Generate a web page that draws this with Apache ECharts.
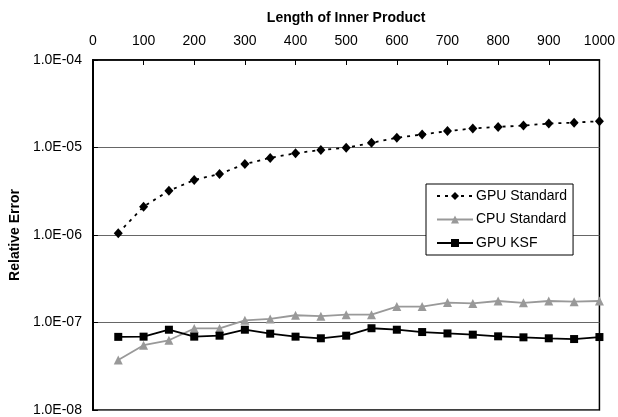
<!DOCTYPE html>
<html>
<head>
<meta charset="utf-8">
<script src="https://cdn.jsdelivr.net/npm/echarts@6/dist/echarts.min.js"></script>
<style>
html,body{margin:0;padding:0;background:#fff;}
#chart{width:618px;height:417px;}
</style>
</head>
<body>
<div id="chart"></div>
<script>
const xValues = [50,100,150,200,250,300,350,400,450,500,550,600,650,700,750,800,850,900,950,1000];
const gpuStandard = [1.05e-6,2.11e-6,3.2e-6,4.26e-6,4.98e-6,6.46e-6,7.6e-6,8.6e-6,9.37e-6,9.95e-6,1.13e-5,1.29e-5,1.41e-5,1.54e-5,1.65e-5,1.72e-5,1.78e-5,1.88e-5,1.92e-5,2.0e-5];
const cpuStandard = [3.72e-8,5.5e-8,6.26e-8,8.55e-8,8.55e-8,1.06e-7,1.1e-7,1.21e-7,1.18e-7,1.23e-7,1.23e-7,1.52e-7,1.52e-7,1.69e-7,1.65e-7,1.76e-7,1.68e-7,1.76e-7,1.73e-7,1.76e-7];
const gpuKSF = [6.85e-8,6.89e-8,8.27e-8,6.89e-8,7.07e-8,8.27e-8,7.45e-8,6.89e-8,6.6e-8,7.07e-8,8.6e-8,8.27e-8,7.78e-8,7.5e-8,7.26e-8,6.95e-8,6.77e-8,6.6e-8,6.47e-8,6.82e-8];
const xTickLabels = ['0','100','200','300','400','500','600','700','800','900','1000'];
const yTickLabels = ['1.0E-08','1.0E-07','1.0E-06','1.0E-05','1.0E-04'];
const seriesNames = ['GPU Standard','CPU Standard','GPU KSF'];

const font = 'Liberation Sans, Arial, sans-serif';
const pairs = arr => xValues.map((x,i)=>[x,arr[i]]);

const chart = echarts.init(document.getElementById('chart'), null, {renderer:'canvas'});
chart.setOption({
  animation:false,
  backgroundColor:'#fff',
  textStyle:{fontFamily:font},
  grid:{left:91,right:17,top:60,bottom:3.5,show:true,borderColor:'#000',borderWidth:1.5,backgroundColor:'transparent'},
  legend:{
    orient:'vertical',left:426,top:184,
    padding:[5,6,5,10],
    itemWidth:36,itemHeight:10,itemGap:9.5,
    borderColor:'#000',borderWidth:1,backgroundColor:'#fff',
    textStyle:{fontFamily:font,fontSize:14,color:'#000',padding:[0,0,0,-2]},
    data:seriesNames
  },
  xAxis:{
    type:'value',position:'top',min:0,max:1000,interval:100,
    name:'Length of Inner Product',nameLocation:'middle',nameGap:35,
    nameTextStyle:{fontFamily:font,fontSize:14,fontWeight:'bold',color:'#000'},
    axisLine:{show:true,lineStyle:{color:'#000',width:1.5}},
    axisTick:{show:true,inside:true,length:5,lineStyle:{color:'#000'}},
    axisLabel:{margin:12,fontFamily:font,fontSize:14,color:'#000',
      formatter:(v)=>xTickLabels[Math.round(v/100)]},
    splitLine:{show:false}
  },
  yAxis:{
    type:'log',logBase:10,min:1e-8,max:1e-4,
    name:'Relative Error',nameLocation:'middle',nameGap:65,nameRotate:90,
    nameTextStyle:{fontFamily:font,fontSize:14,fontWeight:'bold',color:'#000'},
    axisLine:{show:true,lineStyle:{color:'#000',width:2}},
    axisTick:{show:true,inside:true,length:5,lineStyle:{color:'#000'}},
    axisLabel:{margin:11,fontFamily:font,fontSize:14,color:'#000',
      formatter:(v)=>yTickLabels[Math.round(Math.log10(v))+8]},
    splitLine:{show:true,lineStyle:{color:'#666',width:1.2}}
  },
  series:[
    {name:seriesNames[0],type:'line',data:pairs(gpuStandard),symbol:'diamond',symbolSize:[9,10],
     itemStyle:{color:'#000'},lineStyle:{color:'#000',width:1.8,type:[3,5]}},
    {name:seriesNames[1],type:'line',data:pairs(cpuStandard),symbol:'triangle',symbolSize:9,
     itemStyle:{color:'#999'},lineStyle:{color:'#999',width:1.8}},
    {name:seriesNames[2],type:'line',data:pairs(gpuKSF),symbol:'rect',symbolSize:8,
     itemStyle:{color:'#000'},lineStyle:{color:'#000',width:1.8}}
  ]
});
</script>
</body>
</html>
